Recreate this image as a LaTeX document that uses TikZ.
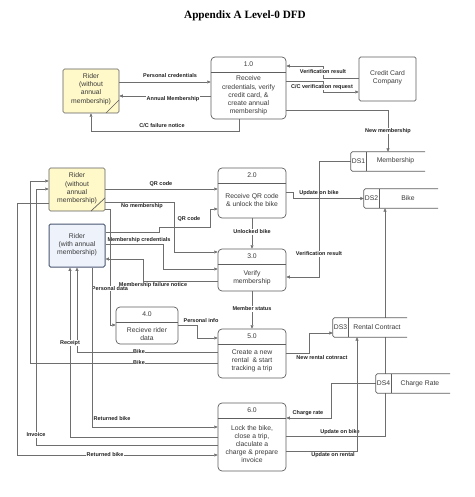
\documentclass[tikz,border=0pt]{standalone}
\usepackage{fontspec}
\setmainfont{Liberation Sans}
\newfontfamily\ttlfont{Liberation Serif}
\usetikzlibrary{arrows.meta}
\definecolor{lc}{HTML}{6E6E6E}
\definecolor{bc}{HTML}{5E5E5E}
\definecolor{tc}{HTML}{3A3A3A}
\definecolor{lt}{HTML}{222222}
\definecolor{ylw}{HTML}{FFF8C8}
\definecolor{blu}{HTML}{EDF2FB}
\definecolor{bluborder}{HTML}{4A5670}
\begin{document}
\begin{tikzpicture}[x=1pt,y=-1pt,
  ln/.style={draw=lc, line width=0.6pt},
  arr/.style={ln, -{Triangle[length=3.4pt,width=3pt]}},
  lbl/.style={font=\fontsize{5.5}{6}\selectfont\bfseries, text=lt, inner sep=0.6pt, fill=white},
  txt/.style={font=\fontsize{6.8}{8.2}\selectfont, text=tc, align=center, inner sep=0pt},
  proc/.style={draw=bc, line width=0.7pt, rounded corners=4pt, fill=white, inner sep=0pt},
  ext/.style={draw=bc, line width=0.7pt, rounded corners=1.5pt, inner sep=0pt},
  hdr/.style={draw=bc, line width=0.7pt},
  dsbox/.style={inner sep=0pt},
  dsline/.style={draw=bc, line width=0.7pt, rounded corners=1.5pt},
]
\useasboundingbox (0,0) rectangle (474,497);

% title
\node[font=\ttlfont\bfseries\fontsize{11.2}{13}\selectfont] (title) at (245,15.5) {Appendix A Level-0 DFD};

% ---------- external entities ----------
\node[ext, fill=ylw, minimum width=56, minimum height=44] (r1) at (91,91) {};
\node[txt] (r1t) at (91,89) {Rider\\(without\\annual\\membership)};
\draw[hdr] (106,113) -- (119,100);

\node[ext, fill=ylw, minimum width=56, minimum height=43] (r2) at (77,189.5) {};
\node[txt] (r2t) at (77,188.5) {Rider\\(without\\annual\\membership)};
\draw[hdr] (91,211) -- (105,198);

\node[ext, fill=blu, draw=bluborder, line width=1pt, minimum width=56, minimum height=43] (r3) at (77,245.5) {};
\node[txt] (r3t) at (77,244.5) {Rider\\(with annual\\membership)};

\node[ext, minimum width=57, minimum height=44] (ccc) at (387.5,79) {};
\node[txt] (ccct) at (387.5,77.5) {Credit Card\\Company};

% ---------- processes ----------
\node[proc, minimum width=75, minimum height=62] (p1) at (248.5,88) {};
\draw[hdr] (p1.west |- 0,72) -- (p1.east |- 0,72);
\node[txt] (p1n) at (248.5,64.5) {1.0};
\node[txt] (p1t) at (248.5,95.5) {Receive\\credentials, verify\\credit card, \&\\create annual\\membership};

\node[proc, minimum width=68, minimum height=50] (p2) at (252,193) {};
\draw[hdr] (p2.west |- 0,183) -- (p2.east |- 0,183);
\node[txt] (p2n) at (252,175.5) {2.0};
\node[txt] (p2t) at (252,200) {Receive QR code\\\& unlock the bike};

\node[proc, minimum width=68, minimum height=42] (p3) at (252,270) {};
\draw[hdr] (p3.west |- 0,264) -- (p3.east |- 0,264);
\node[txt] (p3n) at (252,256.5) {3.0};
\node[txt] (p3t) at (252,277.5) {Verify\\membership};

\node[proc, minimum width=62, minimum height=37] (p4) at (147,325.5) {};
\draw[hdr] (p4.west |- 0,322) -- (p4.east |- 0,322);
\node[txt] (p4n) at (147,314.5) {4.0};
\node[txt] (p4t) at (147,334) {Recieve rider\\data};

\node[proc, minimum width=68, minimum height=49] (p5) at (252,353.5) {};
\draw[hdr] (p5.west |- 0,344) -- (p5.east |- 0,344);
\node[txt] (p5n) at (252,336.5) {5.0};
\node[txt] (p5t) at (252,361) {Create a new\\rental~ \& start\\tracking a trip};

\node[proc, minimum width=68, minimum height=68] (p6) at (252,437) {};
\draw[hdr] (p6.west |- 0,418) -- (p6.east |- 0,418);
\node[txt] (p6n) at (252,410.5) {6.0};
\node[txt] (p6t) at (252,444) {Lock the bike,\\close a trip,\\claculate a\\charge \& prepare\\invoice};

% ---------- data store anchors ----------
\node[dsbox, minimum width=74, minimum height=19] (ds1) at (388,161.5) {};
\node[dsbox, minimum width=74, minimum height=19] (ds2) at (401,198.5) {};
\node[dsbox, minimum width=74, minimum height=19] (ds3) at (370,327.5) {};
\node[dsbox, minimum width=74, minimum height=19] (ds4) at (413,383.5) {};

% ---------- connectors ----------
\draw[arr] (r1.east |- 0,82) -- (p1.west |- 0,82);
\node[lbl] (l1) at (170,75.5) {Personal credentials};
\draw[arr] (p1.west |- 0,96) -- (r1.east |- 0,96);
\node[lbl] (l2) at (173,99.5) {Annual Membership};
\draw[arr] (p1.south -| 239,0) |- (91,131) -- (r1.south -| 91,0);
\node[lbl] (l3) at (162,126) {C/C failure notice};

\draw[arr] (ccc.west |- 0,78) -| (323,66) -- (p1.east |- 0,66);
\node[lbl] (l4) at (323,72) {Verification result};
\draw[arr] (p1.east |- 0,81) -| (323,92) -- (ccc.west |- 0,92);
\node[lbl] (l5) at (322,87) {C/C verification request};

\draw[arr] (p1.east |- 0,110) -| (ds1.north -| 388,0);
\node[lbl] (l6) at (388,131) {New membership};

\draw[arr] (r2.east |- 0,189) -- (p2.west |- 0,189);
\node[lbl] (l7) at (161,184) {QR code};
\draw[arr] (r2.east |- 0,202) -| (174,252) -- (p3.west |- 0,252);
\node[lbl] (l8) at (142,206.5) {No membership};
\draw[arr] (r3.east |- 0,232) -- (159,232) -- (159,227) -- (210,227) -- (210,209) -- (p2.west |- 0,209);
\node[lbl] (l9) at (189,219) {QR code};
\draw[arr] (r3.east |- 0,244) -| (163,269) -- (p3.west |- 0,269);
\node[lbl] (l10) at (139,240) {Membership credentials};
\draw[arr] (p3.west |- 0,281) -| (143,259) -- (r3.east |- 0,259);
\node[lbl, fill=none] (l11) at (153,285) {Membership failure notice};
\draw[arr] (r2.east |- 0,209) -- (110,209) -- (110,325) -- (p4.west |- 0,325);
\node[lbl] (l12) at (110,288.5) {Personal data};
\draw[arr] (p4.east |- 0,325) -| (197,338) -- (p5.west |- 0,338);
\node[lbl] (l13) at (201,321) {Personal info};

\draw[arr] (p2.south) -- (p3.north);
\node[lbl] (l14) at (252,232) {Unlocked bike};
\draw[arr] (ds1.west) -| (319,277) -- (p3.east |- 0,277);
\node[lbl] (l15) at (319,254) {Verification result};
\draw[arr] (p2.east |- 0,192) -- (293,192) |- (ds2.west);
\node[lbl, fill=none] (l16) at (319,193) {Update on bike};
\draw[arr] (p3.south) -- (p5.north);
\node[lbl] (l17) at (252,309) {Member status};
\draw[arr] (p5.east |- 0,353) -| (309,333) -- (ds3.west |- 0,333);
\node[lbl] (l18) at (322,357.5) {New rental cotnract};

\draw[arr] (p6.east |- 0,436) -| (ds2.south -| 385,0);
\node[lbl, fill=none] (l19) at (340,432) {Update on bike};
\draw[arr] (p6.east |- 0,451) -| (ds3.south -| 357,0);
\node[lbl] (l20) at (333,455.5) {Update on rental};
\draw[arr] (ds4.west) -| (331,418) -- (p6.east |- 0,418);
\node[lbl] (l21) at (308,413) {Charge rate};

% left side loops
\draw[arr] (p5.west |- 0,363) -| (30,181) -- (r2.west |- 0,181);
\node[lbl] (l22) at (139,363) {Bike};
\draw[arr] (p5.west |- 0,352) -| (r3.south -| 77,0);
\node[lbl] (l23) at (139,352) {Bike};
\draw[arr] (p6.west |- 0,437) -| (r3.south -| 70,0);
\node[lbl] (l24) at (70,343) {Receipt};
\draw[arr] (p6.west |- 0,445) -| (36,189) -- (r2.west |- 0,189);
\node[lbl] (l25) at (36,435) {Invoice};
\draw[arr] (r2.west |- 0,203) -| (17,455) -- (p6.west |- 0,455);
\node[lbl] (l26) at (105,455) {Returned bike};
\draw[arr] (r3.south -| 92,0) |- (p6.west |- 0,427);
\node[lbl, fill=none] (l27) at (112,418.5) {Returned bike};

% ---------- data stores (drawn over lines) ----------
\foreach \d/\dv in {ds1/366, ds2/379, ds3/348, ds4/391}{
  \fill[white] (\d.north west) rectangle (\d.south east);
  \draw[dsline] (\d.north east) -- (\d.north west) -- (\d.south west) -- (\d.south east);
  \draw[hdr] (\dv,0 |- \d.north) -- (\dv,0 |- \d.south);
}
\node[txt] (ds1a) at (358.5,161.5) {DS1};
\node[txt] (ds1b) at (395.5,161) {Membership};
\node[txt] (ds2a) at (371.5,198.5) {DS2};
\node[txt] (ds2b) at (408,198.5) {Bike};
\node[txt] (ds3a) at (340.5,327.5) {DS3};
\node[txt] (ds3b) at (377,327.5) {Rental Contract};
\node[txt] (ds4a) at (383.5,383.5) {DS4};
\node[txt] (ds4b) at (420,383.5) {Charge Rate};
\end{tikzpicture}
\end{document}
